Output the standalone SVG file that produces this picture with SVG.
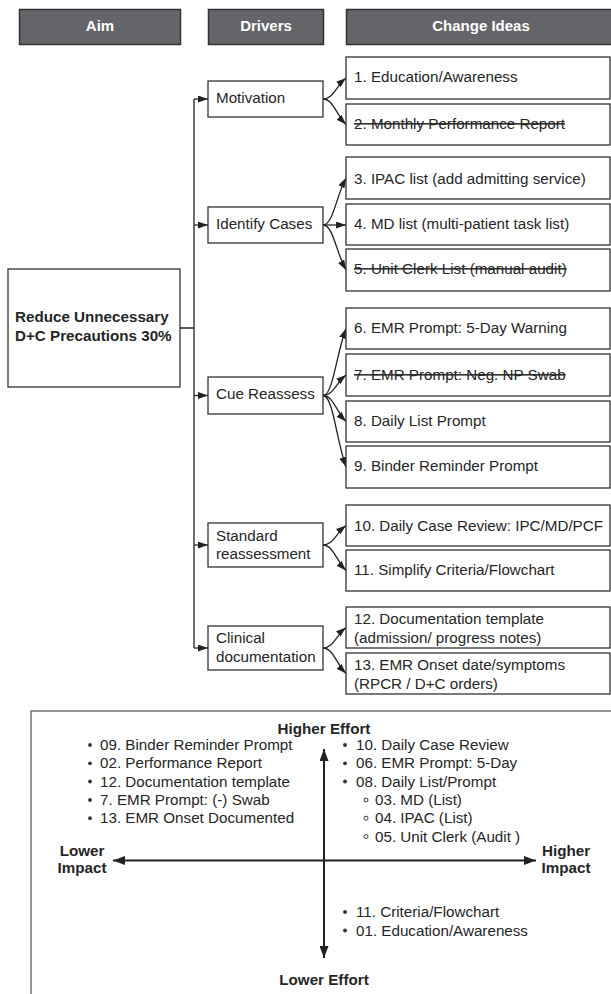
<svg xmlns="http://www.w3.org/2000/svg" width="611" height="994" viewBox="0 0 611 994">
<defs>
<marker id="ah" markerWidth="10" markerHeight="7" refX="10" refY="3.5" orient="auto" markerUnits="userSpaceOnUse"><path d="M0,0 L10,3.5 L0,7 z" fill="#222"/></marker>
<marker id="ahb" markerWidth="12" markerHeight="9" refX="12" refY="4.5" orient="auto" markerUnits="userSpaceOnUse"><path d="M0,0 L12,4.5 L0,9 z" fill="#222"/></marker>
</defs>
<style>
.hdr{fill:#646569;stroke:#333;stroke-width:1.5}
.ht{font-family:"Liberation Sans",Arial,sans-serif;font-size:15px;font-weight:bold;fill:#fff;text-anchor:middle}
.box{fill:#fff;stroke:#333;stroke-width:1.3}
.t{font-family:"Liberation Sans",Arial,sans-serif;font-size:15.2px;fill:#262626}
.s{text-decoration:line-through}
.b{font-weight:bold}
.m{text-anchor:middle}
.c{fill:none;stroke:#222;stroke-width:1.3}
.ax{fill:none;stroke:#222;stroke-width:2}
.dot{fill:#333}
.hol{fill:none;stroke:#333;stroke-width:1}
</style>
<rect width="611" height="994" fill="#fff"/>
<g id="headers">
<rect class="hdr" x="19.5" y="9.5" width="161" height="35"/><text class="ht" x="100" y="30.5">Aim</text>
<rect class="hdr" x="208.5" y="9.5" width="115" height="35"/><text class="ht" x="266" y="30.5">Drivers</text>
<rect class="hdr" x="346.5" y="9.5" width="270" height="35"/><text class="ht" x="481" y="30.5">Change Ideas</text>
</g>
<g id="connectors">
<path class="c" d="M180,328 H194 M194,99 V648"/>
<path class="c" marker-end="url(#ah)" d="M194,99 H208"/>
<path class="c" marker-end="url(#ah)" d="M194,225 H208"/>
<path class="c" marker-end="url(#ah)" d="M194,395.5 H208"/>
<path class="c" marker-end="url(#ah)" d="M194,545 H208"/>
<path class="c" marker-end="url(#ah)" d="M194,648 H208"/>
<path class="c" marker-end="url(#ah)" d="M323,99 C333,99 336,86.4 346,78"/>
<path class="c" marker-end="url(#ah)" d="M323,99 C333,99 336,114.3 346,124.5"/>
<path class="c" marker-end="url(#ah)" d="M323,225 C333,225 336,196.8 346,178"/>
<path class="c" marker-end="url(#ah)" d="M323,225 L346,225"/>
<path class="c" marker-end="url(#ah)" d="M323,225 C333,225 336,252 346,270"/>
<path class="c" marker-end="url(#ah)" d="M323,395.5 C333,395.5 336,355.3 346,328.5"/>
<path class="c" marker-end="url(#ah)" d="M323,395.5 C333,395.5 336,383.2 346,375"/>
<path class="c" marker-end="url(#ah)" d="M323,395.5 C333,395.5 336,411.1 346,421.5"/>
<path class="c" marker-end="url(#ah)" d="M323,395.5 C333,395.5 336,438.4 346,467"/>
<path class="c" marker-end="url(#ah)" d="M323,545 C333,545 336,533.3 346,525.5"/>
<path class="c" marker-end="url(#ah)" d="M323,545 C333,545 336,560.3 346,570.5"/>
<path class="c" marker-end="url(#ah)" d="M323,648 C333,648 336,635.7 346,627.5"/>
<path class="c" marker-end="url(#ah)" d="M323,648 C333,648 336,663.3 346,673.5"/>
</g>
<g id="aim"><rect class="box" x="8" y="269" width="172" height="118"/>
<text class="t b" x="15" y="322">Reduce Unnecessary</text><text class="t b" x="15" y="341">D+C Precautions 30%</text></g>
<g id="d-motivation"><rect class="box" x="208" y="81" width="115" height="36"/><text class="t" x="216" y="103">Motivation</text></g>
<g id="d-identify"><rect class="box" x="208" y="207" width="115" height="36"/><text class="t" x="216" y="228.5">Identify Cases</text></g>
<g id="d-cue"><rect class="box" x="208" y="377" width="115" height="37"/><text class="t" x="216" y="398.5">Cue Reassess</text></g>
<g id="d-standard"><rect class="box" x="208" y="523" width="115" height="44"/><text class="t" x="216" y="540.5">Standard</text><text class="t" x="216" y="558.5">reassessment</text></g>
<g id="d-clinical"><rect class="box" x="208" y="626" width="115" height="44"/><text class="t" x="216" y="642.5">Clinical</text><text class="t" x="216" y="661.5">documentation</text></g>
<g id="c1"><rect class="box" x="346" y="57" width="264" height="42"/><text class="t" x="354" y="82">1. Education/Awareness</text></g>
<g id="c2"><rect class="box" x="346" y="104" width="264" height="41"/><text class="t s" x="354" y="128.5">2. Monthly Performance Report</text></g>
<g id="c3"><rect class="box" x="346" y="157" width="264" height="42"/><text class="t" x="354" y="183.5">3. IPAC list (add admitting service)</text></g>
<g id="c4"><rect class="box" x="346" y="204" width="264" height="41"/><text class="t" x="354" y="228.5">4. MD list (multi-patient task list)</text></g>
<g id="c5"><rect class="box" x="346" y="249" width="264" height="42"/><text class="t s" x="354" y="273.5">5. Unit Clerk List (manual audit)</text></g>
<g id="c6"><rect class="box" x="346" y="308" width="264" height="41"/><text class="t" x="354" y="332.5">6. EMR Prompt: 5-Day Warning</text></g>
<g id="c7"><rect class="box" x="346" y="354" width="264" height="42"/><text class="t s" x="354" y="379.5">7. EMR Prompt: Neg. NP Swab</text></g>
<g id="c8"><rect class="box" x="346" y="401" width="264" height="41"/><text class="t" x="354" y="425.5">8. Daily List Prompt</text></g>
<g id="c9"><rect class="box" x="346" y="446" width="264" height="42"/><text class="t" x="354" y="470.5">9. Binder Reminder Prompt</text></g>
<g id="c10"><rect class="box" x="346" y="505" width="264" height="41"/><text class="t" x="354" y="530.5">10. Daily Case Review: IPC/MD/PCF</text></g>
<g id="c11"><rect class="box" x="346" y="550" width="264" height="41"/><text class="t" x="354" y="574.5">11. Simplify Criteria/Flowchart</text></g>
<g id="c12"><rect class="box" x="346" y="607" width="264" height="41"/><text class="t" x="354" y="623.5">12. Documentation template</text><text class="t" x="354" y="642.5">(admission/ progress notes)</text></g>
<g id="c13"><rect class="box" x="346" y="653" width="264" height="41"/><text class="t" x="354" y="669.5">13. EMR Onset date/symptoms</text><text class="t" x="354" y="688.5">(RPCR / D+C orders)</text></g>
<g id="matrix">
<rect x="31" y="711" width="600" height="300" fill="none" stroke="#777" stroke-width="1.5"/>
<path class="ax" marker-end="url(#ahb)" d="M324,860.5 V749"/>
<path class="ax" marker-end="url(#ahb)" d="M324,860.5 V958"/>
<path class="ax" marker-end="url(#ahb)" d="M324,860.5 H113"/>
<path class="ax" marker-end="url(#ahb)" d="M324,860.5 H536"/>
<text class="t b m" x="324" y="733.5">Higher Effort</text>
<text class="t b m" x="324" y="984.5">Lower Effort</text>
<text class="t b m" x="82" y="855.5">Lower</text><text class="t b m" x="82" y="872.5">Impact</text>
<text class="t b m" x="566" y="855.5">Higher</text><text class="t b m" x="566" y="872.5">Impact</text>
<circle class="dot" cx="90" cy="745" r="1.9"/><text class="t" x="100" y="750">09. Binder Reminder Prompt</text>
<circle class="dot" cx="90" cy="763.3" r="1.9"/><text class="t" x="100" y="768.3">02. Performance Report</text>
<circle class="dot" cx="90" cy="781.5" r="1.9"/><text class="t" x="100" y="786.5">12. Documentation template</text>
<circle class="dot" cx="90" cy="800" r="1.9"/><text class="t" x="100" y="805">7. EMR Prompt: (-) Swab</text>
<circle class="dot" cx="90" cy="818.2" r="1.9"/><text class="t" x="100" y="823.2">13. EMR Onset Documented</text>
<circle class="dot" cx="345" cy="745" r="1.9"/><text class="t" x="356" y="750">10. Daily Case Review</text>
<circle class="dot" cx="345" cy="763.3" r="1.9"/><text class="t" x="356" y="768.3">06. EMR Prompt: 5-Day</text>
<circle class="dot" cx="345" cy="781.5" r="1.9"/><text class="t" x="356" y="786.5">08. Daily List/Prompt</text>
<circle class="hol" cx="366" cy="800" r="2"/><text class="t" x="375" y="805">03. MD (List)</text>
<circle class="hol" cx="366" cy="818.2" r="2"/><text class="t" x="375" y="823.2">04. IPAC (List)</text>
<circle class="hol" cx="366" cy="836.5" r="2"/><text class="t" x="375" y="841.5">05. Unit Clerk (Audit )</text>
<circle class="dot" cx="345" cy="912" r="1.9"/><text class="t" x="356" y="917">11. Criteria/Flowchart</text>
<circle class="dot" cx="345" cy="930.5" r="1.9"/><text class="t" x="356" y="935.5">01. Education/Awareness</text>
</g>
</svg>
